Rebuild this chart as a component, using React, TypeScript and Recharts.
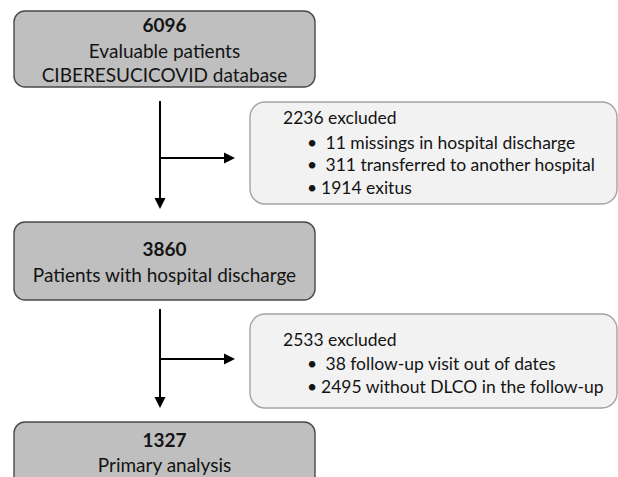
import React from "react";
import {
  ComposedChart,
  XAxis,
  YAxis,
  ReferenceArea,
  ReferenceLine,
  Scatter,
} from "recharts";

const WIDTH = 618;
const HEIGHT = 477;

// flow counts and labels
const stepCounts = [6096, 3860, 1327];
const stepLabels = [
  ["Evaluable patients", "CIBERESUCICOVID database"],
  ["Patients with hospital discharge"],
  ["Primary analysis"],
];
const excludedCounts = [2236, 2533];
const excludedReasons = [
  [" 11 missings in hospital discharge", " 311 transferred to another hospital", "1914 exitus"],
  [" 38 follow-up visit out of dates", "2495 without DLCO in the follow-up"],
];

// layout, in page pixels (y grows downward)
const stepBoxes = [
  { x1: 14, x2: 315, y1: 11, y2: 87 },
  { x1: 14, x2: 315, y1: 222, y2: 300 },
  { x1: 14, x2: 315, y1: 422, y2: 490 },
];
const stepBaselines = [
  [32, 58, 82],
  [256, 282],
  [447, 472],
];
const sideBoxes = [
  { x1: 250, x2: 617, y1: 102, y2: 204 },
  { x1: 250, x2: 617, y1: 314, y2: 408 },
];
const sideBaselines = [
  [124, 149, 171, 194],
  [346, 370, 393],
];
const arrowPaths = [
  [{ x: 160, y: 101 }, { x: 160, y: 209 }],
  [{ x: 160, y: 158 }, { x: 235, y: 158 }],
  [{ x: 160, y: 309 }, { x: 160, y: 408 }],
  [{ x: 160, y: 359 }, { x: 235, y: 359 }],
];

const FONT = "Lato, 'Open Sans', sans-serif";

type TextPt = {
  x: number;
  y: number;
  text: string;
  bold?: boolean;
  anchor: "start" | "middle";
  size: number;
};

const textPoints: TextPt[] = [];
stepCounts.forEach((n, i) => {
  const b = stepBoxes[i];
  const cx = (b.x1 + b.x2) / 2;
  const ys = stepBaselines[i];
  textPoints.push({ x: cx, y: ys[0], text: String(n), bold: true, anchor: "middle", size: 19 });
  stepLabels[i].forEach((t, j) =>
    textPoints.push({ x: cx, y: ys[j + 1], text: t, anchor: "middle", size: 19 })
  );
});
excludedCounts.forEach((n, i) => {
  const b = sideBoxes[i];
  const ys = sideBaselines[i];
  textPoints.push({ x: b.x1 + 33, y: ys[0], text: `${n} excluded`, anchor: "start", size: 17.5 });
  excludedReasons[i].forEach((t, j) => {
    textPoints.push({ x: b.x1 + 57, y: ys[j + 1], text: "•", anchor: "start", size: 17.5 });
    textPoints.push({ x: b.x1 + 71, y: ys[j + 1], text: t, anchor: "start", size: 17.5 });
  });
});

const TextMark = (p: any) => {
  const d: TextPt = p.payload;
  return (
    <text
      x={p.cx}
      y={p.cy}
      textAnchor={d.anchor}
      fontSize={d.size}
      fontWeight={d.bold ? 700 : 400}
      fontFamily={FONT}
      fill="#141414"
      xmlSpace="preserve"
      style={{ whiteSpace: "pre" }}
    >
      {d.text}
    </text>
  );
};

const boxShape = (fill: string, stroke: string, r: number) => (p: any) => (
  <rect
    x={p.x}
    y={p.y}
    width={p.width}
    height={p.height}
    rx={r}
    ry={r}
    fill={fill}
    stroke={stroke}
    strokeWidth={1.4}
  />
);

const Arrow = (p: any) => {
  const { x1, y1, x2, y2 } = p;
  const a = Math.atan2(y2 - y1, x2 - x1);
  const len = 11;
  const half = 5.5;
  const bx = x2 - len * Math.cos(a);
  const by = y2 - len * Math.sin(a);
  const pts = [
    `${x2},${y2}`,
    `${bx - half * Math.sin(a)},${by + half * Math.cos(a)}`,
    `${bx + half * Math.sin(a)},${by - half * Math.cos(a)}`,
  ].join(" ");
  return (
    <g>
      <line x1={x1} y1={y1} x2={bx} y2={by} stroke="#000" strokeWidth={2} />
      <polygon points={pts} fill="#000" />
    </g>
  );
};

export default function App() {
  return (
    <div style={{ position: "absolute", left: 0, top: 0, width: WIDTH, height: HEIGHT, background: "#fff" }}>
      <ComposedChart width={WIDTH} height={HEIGHT} margin={{ top: 0, right: 0, bottom: 0, left: 0 }}>
        <XAxis type="number" dataKey="x" domain={[0, WIDTH]} hide allowDataOverflow />
        <YAxis type="number" dataKey="y" domain={[0, HEIGHT]} reversed hide allowDataOverflow />
        {stepBoxes.map((b, i) => (
          <ReferenceArea
            key={`s${i}`}
            {...b}
            ifOverflow="visible"
            shape={boxShape("#bfbfbf", "#4a4a4a", 11)}
          />
        ))}
        {sideBoxes.map((b, i) => (
          <ReferenceArea
            key={`e${i}`}
            {...b}
            ifOverflow="visible"
            shape={boxShape("#f2f2f2", "#a3a3a3", 15)}
          />
        ))}
        {arrowPaths.map((seg, i) => (
          <ReferenceLine key={`a${i}`} segment={seg} ifOverflow="visible" shape={Arrow} />
        ))}
        <Scatter data={textPoints} shape={TextMark} isAnimationActive={false} />
      </ComposedChart>
    </div>
  );
}
